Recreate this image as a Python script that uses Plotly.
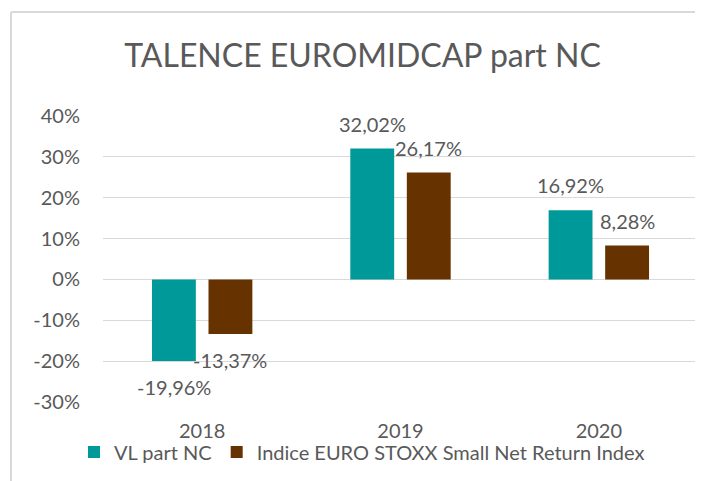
import plotly.graph_objects as go

categories = ["2018", "2019", "2020"]
series_names = ["VL part NC", "Indice EURO STOXX Small Net Return Index"]
vl_values = [-0.1996, 0.3202, 0.1692]
idx_values = [-0.1337, 0.2617, 0.0828]
colors = ["#009999", "#663300"]
y_ticks = [-0.3, -0.2, -0.1, 0.0, 0.1, 0.2, 0.3, 0.4]
y_tick_labels = ["-30%", "-20%", "-10%", "0%", "10%", "20%", "30%", "40%"]
title_text = "TALENCE EUROMIDCAP part NC"

FONT = "Lato"
TXT = "#595959"
GRID = "#d9d9d9"

# the page body has an 8px default margin, so the figure is sized to fit the window
OFF = 8
W, H = 703 - OFF, 481 - OFF
ML, MR, MT, MB = 103 - OFF, 5, 116 - OFF, 79

def fmt(v):
    return ("%.2f" % (v * 100)).replace(".", ",") + "%"

fig = go.Figure()
all_series = [vl_values, idx_values]
for name, vals, col in zip(series_names, all_series, colors):
    fig.add_trace(go.Bar(
        x=categories, y=vals, name=name,
        marker=dict(color=col, line=dict(width=0)),
        hoverinfo="skip",
    ))

# data labels
plot_w = W - ML - MR
plot_h = H - MT - MB
cat_w = plot_w / len(categories)
bargap = 0.43
slot = cat_w * (1 - bargap) / 2
annotations = []
for si, vals in enumerate(all_series):
    xs = (si - 0.5) * slot
    for ci, v in enumerate(vals):
        annotations.append(dict(
            x=ci, y=v, xref="x", yref="y", text=fmt(v), showarrow=False,
            xshift=xs, yshift=25 if v >= 0 else -26,
            yanchor="middle", xanchor="center",
            font=dict(family=FONT, size=20, color=TXT),
        ))

fig.update_layout(
    template="none",
    width=W, height=H,
    margin=dict(l=ML, r=MR, t=MT, b=MB, pad=0, autoexpand=False),
    paper_bgcolor="white", plot_bgcolor="white",
    barmode="group", bargap=bargap, bargroupgap=0.224,
    title=dict(text=title_text, x=354.5 / W, xanchor="center", xref="container",
               y=1 - 48 / H, yanchor="middle", yref="container",
               font=dict(family=FONT, size=32, color=TXT)),
    showlegend=True,
    legend=dict(orientation="h", xref="container", yref="container",
                x=354 / W, xanchor="center",
                y=1 - (452 - OFF) / H, yanchor="middle",
                font=dict(family=FONT, size=20, color=TXT),
                bgcolor="rgba(0,0,0,0)",
                itemclick=False, itemdoubleclick=False, traceorder="normal"),
    annotations=annotations,
    xaxis=dict(type="category", categoryorder="array", categoryarray=categories,
               range=[-0.5, len(categories) - 0.5], autorange=False,
               automargin=False, showgrid=False, showline=False, zeroline=False,
               ticks="outside", ticklen=11, tickcolor="rgba(0,0,0,0)",
               tickfont=dict(family=FONT, size=20, color=TXT)),
    yaxis=dict(range=[-0.3, 0.4], autorange=False, automargin=False,
               tickvals=y_ticks, ticktext=y_tick_labels,
               showgrid=True, gridcolor=GRID, gridwidth=1.3,
               zeroline=True, zerolinecolor=GRID, zerolinewidth=1.3,
               showline=False,
               ticks="outside", ticklen=18, tickcolor="rgba(0,0,0,0)",
               tickfont=dict(family=FONT, size=20, color=TXT)),
    shapes=[
        dict(type="line", xref="paper", yref="paper",
             x0=(11 - OFF - ML) / plot_w, x1=(11 - OFF - ML) / plot_w,
             y0=-(H + 10 - (H - MB)) / plot_h, y1=1 + (MT - (12 - OFF)) / plot_h,
             line=dict(color=GRID, width=2)),
        dict(type="line", xref="paper", yref="paper",
             x0=(11 - OFF - ML) / plot_w, x1=(W + 10 - ML) / plot_w,
             y0=1 + (MT - (12 - OFF)) / plot_h, y1=1 + (MT - (12 - OFF)) / plot_h,
             line=dict(color=GRID, width=2)),
    ],
)

fig.write_html("out.html")
